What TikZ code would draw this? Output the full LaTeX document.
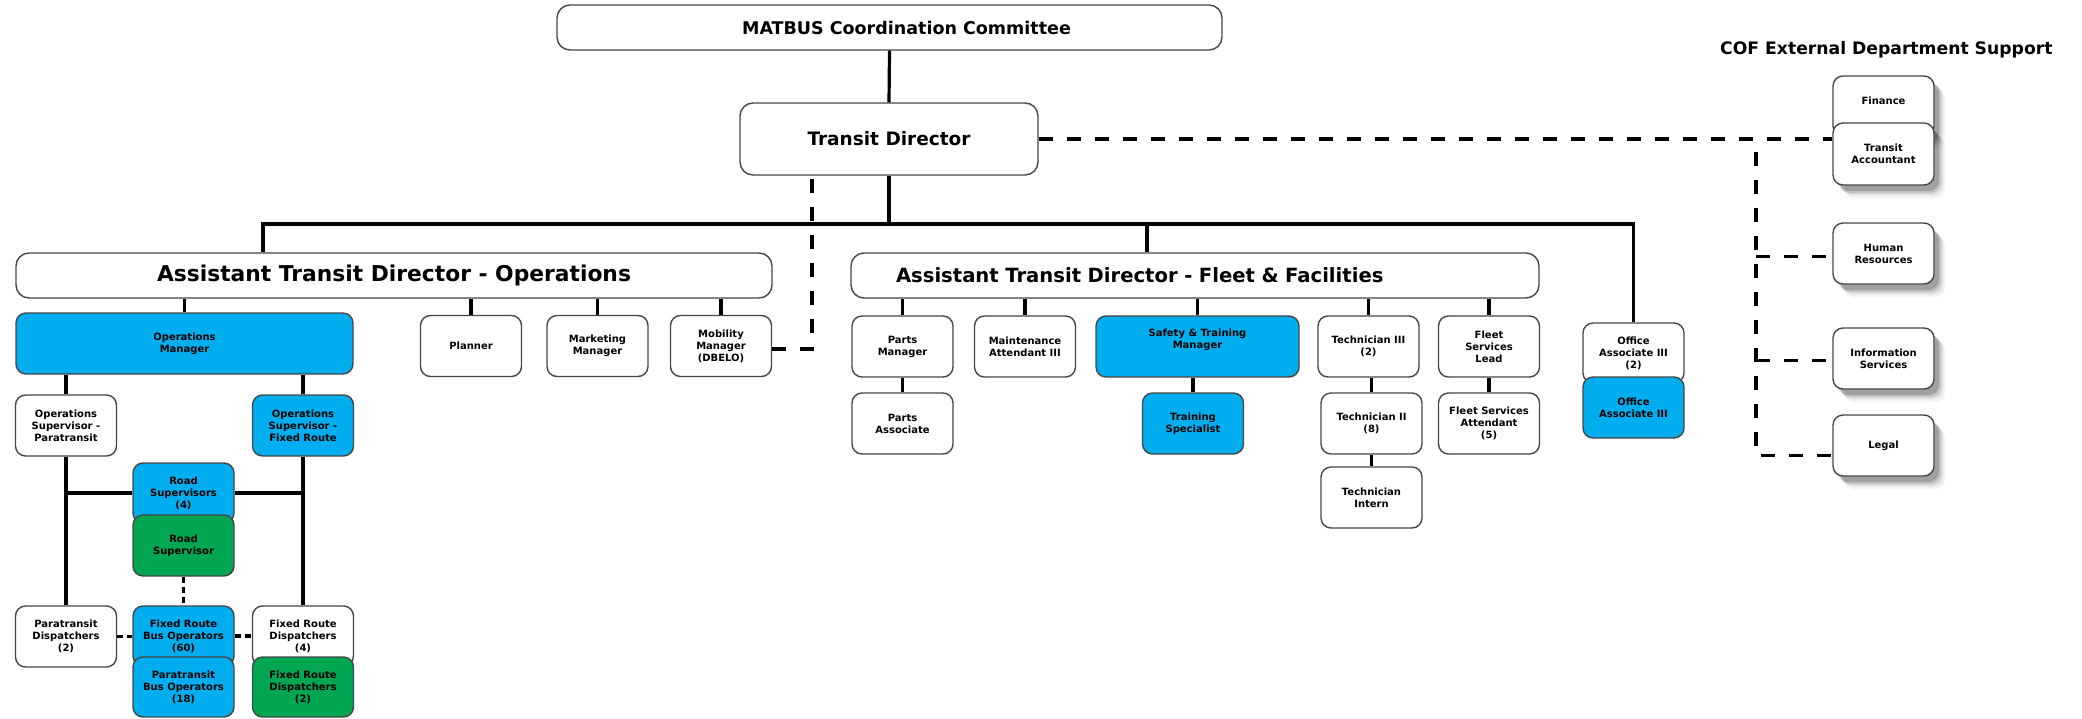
\documentclass[tikz,border=0pt]{standalone}
\usepackage{fontspec}
\setmainfont{DejaVu Sans}
\usepackage{xcolor}
\usepackage{tikz}
\usetikzlibrary{calc}
\usetikzlibrary{shadows}

\definecolor{opsblue}{RGB}{0,174,239}
\definecolor{opsgreen}{RGB}{0,166,81}
\definecolor{boxline}{RGB}{70,70,70}
\newcommand{\boxfont}{\fontsize{10}{12}\selectfont\bfseries}

\begin{document}
\begin{tikzpicture}[x=1pt,y=-1pt,
        box/.style={draw=boxline, line width=1.4pt, rounded corners=10pt, fill=white, align=center,
            inner sep=2pt, font=\boxfont, minimum width=101pt, minimum height=61pt},
        bluebox/.style={box, fill=opsblue},
        greenbox/.style={box, fill=opsgreen},
        topbox/.style={box, rounded corners=13pt},
        extbox/.style={box,
            drop shadow={shadow xshift=11pt, shadow yshift=-13pt, fill=black, opacity=0.05},
            drop shadow={shadow xshift=9pt, shadow yshift=-10pt, fill=black, opacity=0.08},
            drop shadow={shadow xshift=7pt, shadow yshift=-8pt, fill=black, opacity=0.12},
            drop shadow={shadow xshift=5pt, shadow yshift=-6pt, fill=black, opacity=0.18}},
        link/.style={line width=3.2pt},
        dashlink/.style={line width=3.2pt, dash pattern=on 14pt off 14pt},
        shortdash/.style={line width=3.2pt, dash pattern=on 6pt off 4pt}]
        \useasboundingbox (0,0) rectangle (2082,718);

        %TOP
        \node[topbox, minimum width=665pt, minimum height=45pt, font=\fontsize{17.5}{20}\selectfont\bfseries] (mcc) at (889.5,27.5) {\hspace*{34pt}MATBUS Coordination Committee};
        \node[topbox, minimum width=298pt, minimum height=72pt, font=\fontsize{18.5}{21}\selectfont\bfseries] (td) at (889,139) {Transit Director};
        \node[topbox, minimum width=756pt, minimum height=45pt, font=\fontsize{21.8}{24}\selectfont\bfseries] (atdops) at (394,275.5) {Assistant Transit Director - Operations};
        \node[topbox, text width=598pt, inner xsep=45pt, minimum height=45pt, align=left, font=\fontsize{19.6}{22}\selectfont\bfseries] (atdfleet) at (1195,275.5) {Assistant Transit Director - Fleet \& Facilities};

        %OPERATIONS
        \node[bluebox, minimum width=337pt] (opsmgr) at (184.5,343.5) {Operations\\Manager};
        \node[box] (planner) at (471,346) {Planner};
        \node[box] (mktg) at (597.5,346) {Marketing\\Manager};
        \node[box] (mobility) at (721,346) {Mobility\\Manager\\(DBELO)};
        \node[box] (suppara) at (66,425.5) {Operations\\Supervisor -\\Paratransit};
        \node[bluebox] (supfixed) at (303,425.5) {Operations\\Supervisor -\\Fixed Route};
        \node[bluebox, minimum height=60pt] (roadsups) at (183.5,493) {Road\\Supervisors\\(4)};
        \node[greenbox] (roadsup) at (183.5,545.5) {Road\\Supervisor};
        \node[box] (paradisp) at (66,636.5) {Paratransit\\Dispatchers\\(2)};
        \node[bluebox, minimum height=60pt] (frbo) at (183.5,636) {Fixed Route\\Bus Operators\\(60)};
        \node[bluebox, minimum height=60pt] (pbo) at (183.5,687) {Paratransit\\Bus Operators\\(18)};
        \node[box, minimum height=60pt] (frdisp) at (303,636) {Fixed Route\\Dispatchers\\(4)};
        \node[greenbox, minimum height=60pt] (frdisptwo) at (303,687) {Fixed Route\\Dispatchers\\(2)};

        %FLEET
        \node[box] (partsmgr) at (902.5,346.5) {Parts\\Manager};
        \node[box] (maint) at (1025,346.5) {Maintenance\\Attendant III};
        \node[bluebox, minimum width=203pt] (safety) at (1197.5,346.5) {Safety \& Training\\Manager\\[3pt]};
        \node[box] (techthree) at (1368.5,346.5) {Technician III\\(2)};
        \node[box] (fleetlead) at (1489,346.5) {Fleet\\Services\\Lead};
        \node[box] (partsassoc) at (902.5,423.5) {Parts\\Associate};
        \node[bluebox] (trainspec) at (1193,423.5) {Training\\Specialist};
        \node[box] (techtwo) at (1371.5,423.5) {Technician II\\(8)};
        \node[box] (fleetatt) at (1489,423.5) {Fleet Services\\Attendant\\(5)};
        \node[box] (techintern) at (1371.5,497.5) {Technician\\Intern};

        %OFFICE
        \node[box, minimum height=60pt] (offtwo) at (1633.5,353) {Office\\Associate III\\(2)};
        \node[bluebox] (offone) at (1633.5,407.5) {Office\\Associate III};

        %EXTERNAL
        \node[font=\fontsize{17.2}{20}\selectfont\bfseries, anchor=west, inner sep=0pt] (cof) at (1720,50) {COF External Department Support};
        \node[extbox, minimum height=60pt] (finance) at (1883.5,106) {\raisebox{10pt}{Finance}};
        \node[extbox, minimum height=62pt] (acct) at (1883.5,154) {Transit\\Accountant};
        \node[extbox] (hr) at (1883.5,253.5) {Human\\Resources};
        \node[extbox] (infosvc) at (1883.5,358.5) {Information\\Services};
        \node[extbox] (legal) at (1883.5,445.5) {Legal};

        %KOORDINAT
        \coordinate (barL) at (263,224);
        \coordinate (barF) at (1147,224);
        \coordinate (barR) at (1633.5,224);
        \coordinate (dbelo) at (812,349);
        \coordinate (extTop) at (1756,152);
        \coordinate (legalIn) at ([yshift=-10pt]legal.west);
        \coordinate (hrIn) at ([yshift=-3pt]hr.west);
        \coordinate (infoIn) at ([yshift=-2pt]infosvc.west);

        %GARIS
        \draw[link] (mcc.south) -- (td.north);
        \draw[link] (td.south) -- (td.south |- barL);
        \draw[link] (barL |- atdops.north) -- (barL) -- (barR) -- (offtwo.north);
        \draw[link] (barF) -- (barF |- atdfleet.north);
        \foreach \n in {opsmgr,planner,mktg,mobility}
            \draw[link] (\n.north) -- (\n.north |- atdops.south);
        \foreach \n in {partsmgr,maint,safety,techthree,fleetlead}
            \draw[link] (\n.north) -- (\n.north |- atdfleet.south);
        \draw[link] (partsmgr) -- (partsassoc);
        \draw[link] (trainspec.north) -- (trainspec.north |- safety.south);
        \draw[link] (techtwo.north) -- (techtwo.north |- techthree.south);
        \draw[link] (techtwo) -- (techintern);
        \draw[link] (fleetlead) -- (fleetatt);

        \draw[link] (suppara.north) -- (suppara.north |- opsmgr.south);
        \draw[link] (supfixed.north) -- (supfixed.north |- opsmgr.south);
        \draw[link] (suppara) -- (paradisp);
        \draw[link] (supfixed) -- (frdisp);
        \draw[link] (roadsups.west -| suppara.south) -- (roadsups.west);
        \draw[link] (roadsups.east) -- (roadsups.east -| supfixed.south);
        \draw[shortdash] (roadsup) -- (frbo);
        \draw[shortdash] (paradisp.east) -- (paradisp.east -| frbo.west);
        \draw[shortdash] (frbo.east) -- (frbo.east -| frdisp.west);

        %PUTUS-PUTUS
        \draw[dashlink] (mobility.east |- dbelo) -- (dbelo) -- (dbelo |- td.south);
        \draw[dashlink] (td.east) -- (td.east -| acct.west);
        \draw[dashlink] (extTop) -- (extTop |- legalIn) -- (legalIn);
        \draw[dashlink] (hrIn -| extTop) -- (hrIn);
        \draw[dashlink] (infoIn -| extTop) -- (infoIn);
    \end{tikzpicture}
\end{document}
